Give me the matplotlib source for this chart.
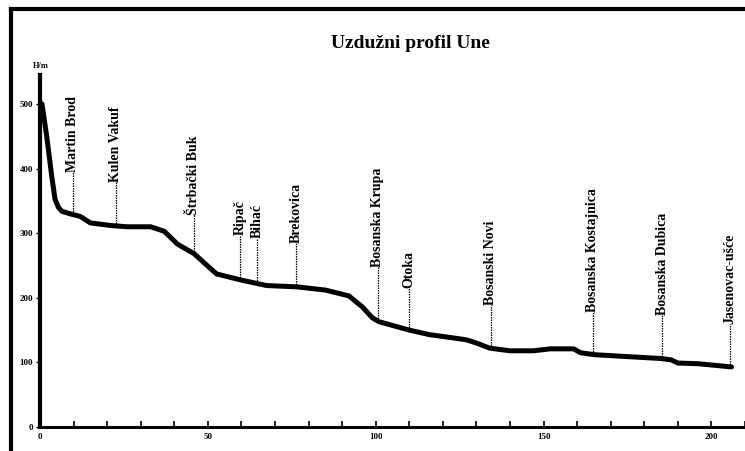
import numpy as np
import matplotlib
matplotlib.use('Agg')
import matplotlib.pyplot as plt
from matplotlib.lines import Line2D
from matplotlib.ticker import MultipleLocator

# longitudinal profile of the Una river (distance in km, elevation in m)
profile_km = [0, 0.6, 2, 3.5, 4.5, 5.5, 6.5, 9, 12, 15, 21, 26, 33, 37, 41, 46,
              48.5, 52.6, 59.5, 67.5, 76.5, 85, 92, 96, 99, 101, 110, 116, 123,
              127, 130, 134, 140, 147, 152, 159, 161, 165, 175, 185, 188, 190,
              196, 200, 206]
profile_h = [502, 500, 450, 388, 352, 340, 334, 330, 326, 316, 312, 310, 310,
             303, 283, 268, 256, 237, 228, 219, 217, 212, 203, 186, 169, 163,
             150, 143, 138, 135, 130, 122, 118, 118, 121, 121, 115, 112, 109,
             106, 104, 99, 98, 96, 93]

places = ['Martin Brod', 'Kulen Vakuf', 'Štrbački Buk', 'Ripač', 'Bihać',
          'Brekovica', 'Bosanska Krupa', 'Otoka', 'Bosanski Novi',
          'Bosanska Kostajnica', 'Bosanska Dubica', 'Jasenovac-ušće']
place_km = [9.7, 22.5, 45.8, 59.7, 64.6, 76.2, 100.6, 109.8, 134.2, 164.6,
            185.4, 205.4]

# where each leader line ends and its label starts (layout only)
leader_top = [395, 380, 328, 297, 293, 285, 248, 215, 189, 178, 174, 160]

plt.rcParams['font.family'] = ['Liberation Serif', 'DejaVu Serif']
plt.rcParams['font.weight'] = 'bold'

fig = plt.figure(figsize=(7.45, 4.51), dpi=100)
ax = fig.add_axes([40 / 745, 1 - 427 / 451, 1 - 40 / 745, (427 - 75) / 451])

ax.plot(profile_km, profile_h, color='black', lw=3.6,
        solid_joinstyle='round', solid_capstyle='round', zorder=3)

for name, km, top in zip(places, place_km, leader_top):
    base = np.interp(km, profile_km, profile_h)
    ax.plot([km, km], [base, top], color='black', lw=0.9,
            linestyle=(0, (1.2, 0.8)), zorder=2)
    ax.text(km, top, name, rotation=90, ha='center', va='bottom',
            fontsize=10, fontweight='bold')

ax.set_xlim(0, 210)
ax.set_ylim(0, 545)
ax.xaxis.set_major_locator(MultipleLocator(50))
ax.xaxis.set_minor_locator(MultipleLocator(10))
ax.yaxis.set_major_locator(MultipleLocator(100))
ax.tick_params(axis='x', which='both', direction='in', length=4, width=1.2,
               labelsize=6.5, pad=4)
ax.tick_params(axis='y', direction='out', length=3, width=1.0,
               labelsize=6.5, pad=2)
for lab in ax.get_xticklabels() + ax.get_yticklabels():
    lab.set_fontweight('bold')

for side in ['top', 'right']:
    ax.spines[side].set_visible(False)
ax.spines['left'].set_linewidth(3.0)
ax.spines['bottom'].set_linewidth(2.2)

fig.text(410 / 745, 1 - 43 / 451, 'Uzdužni profil Une', ha='center',
         va='center', fontsize=14, fontweight='bold')
fig.text(41 / 745, 1 - 66 / 451, 'H/m', ha='center', va='center',
         fontsize=6, fontweight='bold')

# outer frame (top and left edge visible)
fig.add_artist(Line2D([11 / 745, 1], [1 - 9 / 451] * 2, color='black',
                      lw=3, transform=fig.transFigure))
fig.add_artist(Line2D([11 / 745] * 2, [0, 1 - 9 / 451], color='black',
                      lw=3, transform=fig.transFigure))

fig.savefig('out.png', dpi=100)
